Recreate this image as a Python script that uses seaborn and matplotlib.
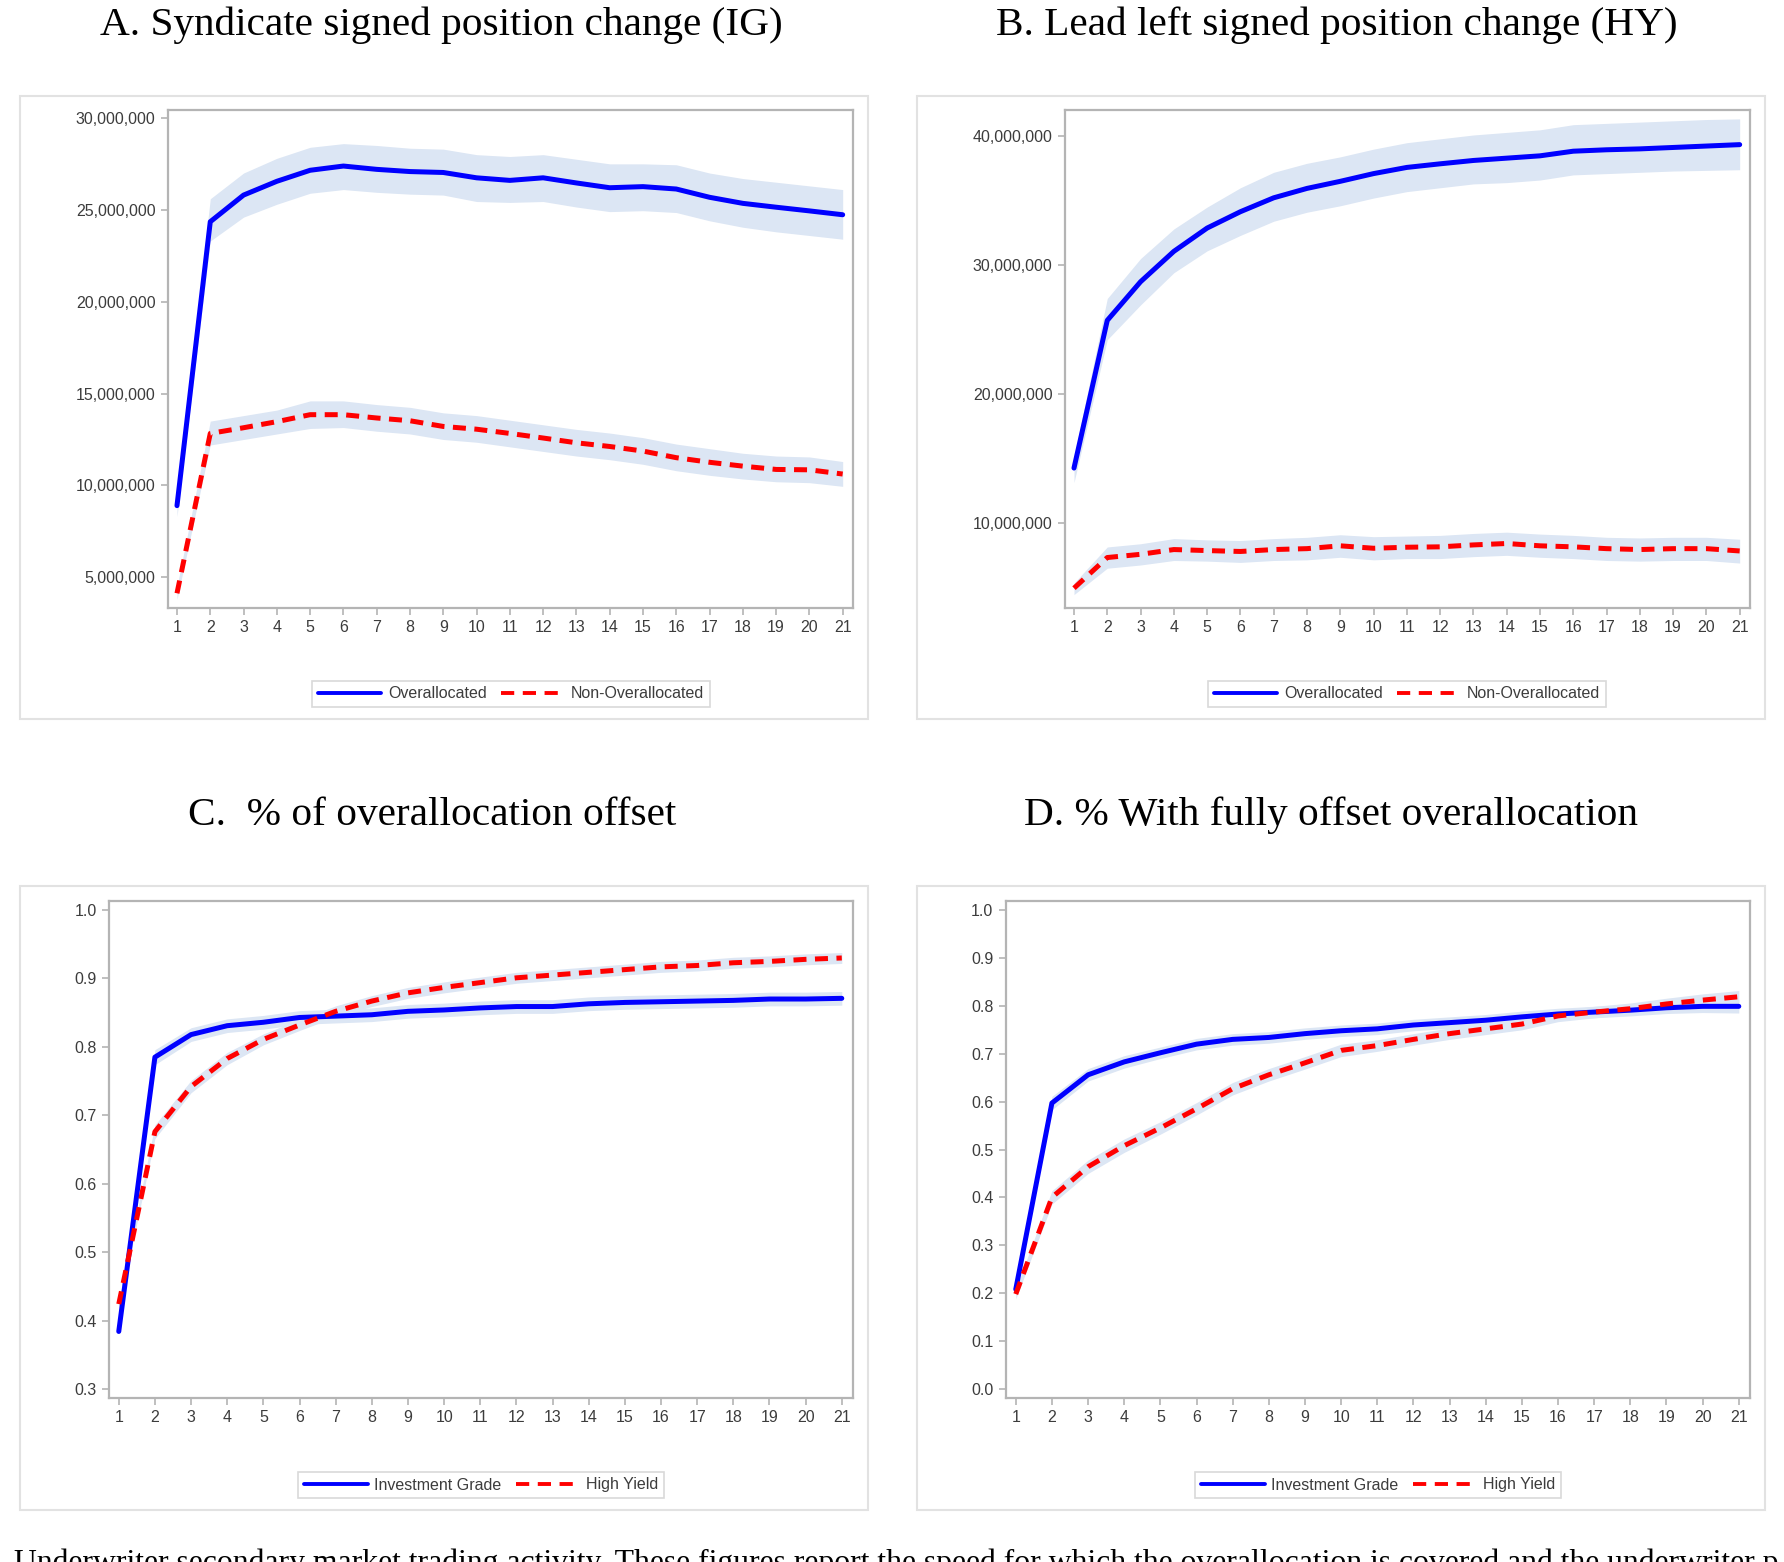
import numpy as np
import pandas as pd
import matplotlib
matplotlib.use("Agg")
import matplotlib.pyplot as plt
from matplotlib.patches import Rectangle
from matplotlib.ticker import FuncFormatter
import seaborn as sns

# Days after offering
days = list(range(1, 22))

# A. Syndicate signed position change (IG)
a_over = [8.9e6, 24.35e6, 25.8e6, 26.55e6, 27.15e6, 27.38e6, 27.2e6, 27.08e6, 27.03e6, 26.74e6, 26.6e6,
          26.74e6, 26.46e6, 26.2e6, 26.26e6, 26.13e6, 25.68e6, 25.35e6, 25.14e6, 24.94e6, 24.73e6]
a_over_lo = [8.3e6, 23.3e6, 24.6e6, 25.3e6, 25.9e6, 26.1e6, 25.95e6, 25.85e6, 25.8e6, 25.45e6, 25.4e6,
             25.45e6, 25.15e6, 24.9e6, 24.95e6, 24.85e6, 24.4e6, 24.05e6, 23.8e6, 23.6e6, 23.4e6]
a_over_hi = [9.6e6, 25.6e6, 27.0e6, 27.8e6, 28.4e6, 28.6e6, 28.5e6, 28.35e6, 28.3e6, 28.0e6, 27.9e6,
             28.0e6, 27.75e6, 27.5e6, 27.5e6, 27.45e6, 27.0e6, 26.7e6, 26.5e6, 26.3e6, 26.1e6]
a_non = [4.13e6, 12.83e6, 13.14e6, 13.47e6, 13.85e6, 13.85e6, 13.67e6, 13.52e6, 13.21e6, 13.06e6, 12.83e6,
         12.58e6, 12.32e6, 12.12e6, 11.87e6, 11.51e6, 11.26e6, 11.05e6, 10.87e6, 10.85e6, 10.62e6]
a_non_lo = [3.8e6, 12.2e6, 12.5e6, 12.8e6, 13.1e6, 13.15e6, 12.95e6, 12.8e6, 12.5e6, 12.35e6, 12.1e6,
            11.85e6, 11.6e6, 11.4e6, 11.15e6, 10.8e6, 10.55e6, 10.35e6, 10.2e6, 10.15e6, 9.95e6]
a_non_hi = [4.5e6, 13.5e6, 13.8e6, 14.1e6, 14.6e6, 14.6e6, 14.4e6, 14.25e6, 13.95e6, 13.8e6, 13.55e6,
            13.3e6, 13.05e6, 12.85e6, 12.6e6, 12.25e6, 12.0e6, 11.75e6, 11.6e6, 11.55e6, 11.3e6]

# B. Lead left signed position change (HY)
b_over = [14.23e6, 25.7e6, 28.7e6, 31.06e6, 32.87e6, 34.14e6, 35.22e6, 35.95e6, 36.5e6, 37.1e6, 37.58e6,
          37.86e6, 38.12e6, 38.3e6, 38.48e6, 38.84e6, 38.95e6, 39.02e6, 39.13e6, 39.24e6, 39.35e6]
b_over_lo = [13.1e6, 24.2e6, 26.9e6, 29.4e6, 31.1e6, 32.3e6, 33.4e6, 34.1e6, 34.6e6, 35.2e6, 35.7e6,
             36.0e6, 36.3e6, 36.4e6, 36.6e6, 37.0e6, 37.1e6, 37.2e6, 37.3e6, 37.35e6, 37.4e6]
b_over_hi = [15.1e6, 27.4e6, 30.5e6, 32.8e6, 34.5e6, 36.0e6, 37.2e6, 37.9e6, 38.4e6, 39.0e6, 39.5e6,
             39.8e6, 40.1e6, 40.3e6, 40.5e6, 40.9e6, 41.0e6, 41.1e6, 41.2e6, 41.3e6, 41.35e6]
b_non = [4.9e6, 7.28e6, 7.53e6, 7.9e6, 7.82e6, 7.75e6, 7.9e6, 7.97e6, 8.19e6, 8.0e6, 8.08e6,
         8.11e6, 8.26e6, 8.37e6, 8.19e6, 8.11e6, 7.97e6, 7.9e6, 7.97e6, 7.97e6, 7.79e6]
b_non_lo = [4.4e6, 6.45e6, 6.7e6, 7.05e6, 7.0e6, 6.9e6, 7.05e6, 7.1e6, 7.3e6, 7.1e6, 7.2e6,
            7.2e6, 7.35e6, 7.45e6, 7.3e6, 7.2e6, 7.05e6, 7.0e6, 7.05e6, 7.05e6, 6.85e6]
b_non_hi = [5.3e6, 8.1e6, 8.35e6, 8.75e6, 8.65e6, 8.6e6, 8.75e6, 8.85e6, 9.05e6, 8.9e6, 8.95e6,
            9.0e6, 9.15e6, 9.25e6, 9.1e6, 9.0e6, 8.85e6, 8.8e6, 8.85e6, 8.85e6, 8.7e6]

# C. % of overallocation offset
c_ig = [0.384, 0.785, 0.818, 0.831, 0.836, 0.843, 0.845, 0.847, 0.852, 0.854, 0.857,
        0.859, 0.859, 0.863, 0.865, 0.866, 0.867, 0.868, 0.870, 0.870, 0.871]
c_ig_ci = [0.004, 0.011, 0.010, 0.010, 0.010, 0.010, 0.010, 0.010, 0.010, 0.010, 0.010,
           0.010, 0.010, 0.010, 0.010, 0.010, 0.010, 0.010, 0.010, 0.010, 0.010]
c_hy = [0.424, 0.676, 0.742, 0.783, 0.811, 0.832, 0.852, 0.867, 0.879, 0.887, 0.894,
        0.901, 0.905, 0.909, 0.913, 0.917, 0.919, 0.923, 0.925, 0.928, 0.930]
c_hy_ci = [0.006, 0.010, 0.009, 0.009, 0.008, 0.008, 0.008, 0.008, 0.008, 0.008, 0.008,
           0.008, 0.008, 0.008, 0.008, 0.008, 0.008, 0.008, 0.008, 0.008, 0.008]

# D. % With fully offset overallocation
d_ig = [0.208, 0.597, 0.656, 0.683, 0.702, 0.720, 0.730, 0.734, 0.742, 0.748, 0.752,
        0.760, 0.765, 0.770, 0.777, 0.783, 0.787, 0.791, 0.796, 0.799, 0.799]
d_ig_ci = [0.010, 0.014, 0.013, 0.013, 0.012, 0.012, 0.012, 0.012, 0.012, 0.012, 0.012,
           0.012, 0.012, 0.012, 0.012, 0.012, 0.012, 0.012, 0.012, 0.013, 0.014]
d_hy = [0.198, 0.400, 0.464, 0.508, 0.545, 0.585, 0.627, 0.656, 0.681, 0.707, 0.717,
        0.730, 0.742, 0.752, 0.762, 0.779, 0.787, 0.794, 0.804, 0.812, 0.819]
d_hy_ci = [0.010, 0.014, 0.014, 0.014, 0.013, 0.013, 0.013, 0.013, 0.013, 0.013, 0.012,
           0.012, 0.012, 0.012, 0.012, 0.012, 0.012, 0.012, 0.012, 0.013, 0.013]

caption = ("Underwriter secondary market trading activity. These figures report the speed for which the "
           "overallocation is covered and the underwriter p")

BLUE = "#0000ff"
RED = "#ff0000"
BAND = "#dce6f4"
FRAME = "#b4b4b4"
TXT = "#3c3c3c"

W, H = 1784, 1562

sns.set_style("white")
plt.rcParams["font.family"] = ["Liberation Sans", "DejaVu Sans"]

fig = plt.figure(figsize=(W / 100, H / 100), dpi=100)


def px_rect(x0, y0, x1, y1):
    # pixel box (top-left origin) -> figure fraction
    return [x0 / W, 1 - y1 / H, (x1 - x0) / W, (y1 - y0) / H]


def draw_panel(title, tx, ty, frame, axbox, s1, s2, labels, ylim, yticks, fmt, legpos):
    fig.text(tx / W, 1 - ty / H, title, ha="center", va="center",
             family="Liberation Serif", fontsize=29.7, color="black")
    fx0, fy0, fx1, fy1 = frame
    fig.patches.append(Rectangle((fx0 / W, 1 - fy1 / H), (fx1 - fx0) / W, (fy1 - fy0) / H,
                                 transform=fig.transFigure, fill=False,
                                 edgecolor="#e2e2e2", linewidth=1.5))
    ax = fig.add_axes(px_rect(*axbox))
    handles = []
    series = [(s1, BLUE, "-"), (s2, RED, "--")]
    for (y, lo, hi), col, ls in series:
        ax.fill_between(days, lo, hi, color=BAND, linewidth=0, zorder=1)
    for (y, lo, hi), col, ls in series:
        df = pd.DataFrame({"day": days, "value": y})
        sns.lineplot(data=df, x="day", y="value", ax=ax, color=col, linewidth=3.6,
                     linestyle=ls, zorder=3)
        if ls == "--":
            ax.lines[-1].set_dashes((2.6, 1.7))
        h, = ax.plot([], [], color=col, linewidth=2.8, linestyle=ls)
        if ls == "--":
            h.set_dashes((3.4, 2.2))
        handles.append(h)
    ax.set_xlim(0.73, 21.31)
    ax.set_ylim(*ylim)
    ax.set_xticks(days)
    ax.set_yticks(yticks)
    ax.yaxis.set_major_formatter(FuncFormatter(fmt))
    ax.set_xlabel("")
    ax.set_ylabel("")
    for sp in ax.spines.values():
        sp.set_color(FRAME)
        sp.set_linewidth(1.6)
    ax.tick_params(axis="both", direction="out", length=5, width=1.2, color=FRAME,
                   labelsize=11.5, labelcolor=TXT, pad=4, bottom=True, left=True)
    leg = fig.legend(handles, labels, loc="center", bbox_to_anchor=(legpos[0] / W, 1 - legpos[1] / H),
                     ncol=2, frameon=True, fontsize=11.5, handlelength=4.0, handletextpad=0.4,
                     columnspacing=0.9, borderpad=0.35, fancybox=False)
    leg.get_frame().set_edgecolor("#d0d0d0")
    leg.get_frame().set_linewidth(1.2)
    for t in leg.get_texts():
        t.set_color(TXT)
    return ax


def fmt_int(v, pos):
    return f"{int(round(v)):,}"


def fmt_dec(v, pos):
    return f"{v:.1f}"


draw_panel("A. Syndicate signed position change (IG)", 441, 25,
           (20, 96, 868, 719), (168, 110, 853, 608),
           (a_over, a_over_lo, a_over_hi), (a_non, a_non_lo, a_non_hi),
           ["Overallocated", "Non-Overallocated"],
           (3.33e6, 30.43e6), [5e6, 10e6, 15e6, 20e6, 25e6, 30e6], fmt_int, (511, 694))

draw_panel("B. Lead left signed position change (HY)", 1337, 25,
           (917, 96, 1765, 719), (1065, 110, 1750, 608),
           (b_over, b_over_lo, b_over_hi), (b_non, b_non_lo, b_non_hi),
           ["Overallocated", "Non-Overallocated"],
           (3.36e6, 42.04e6), [10e6, 20e6, 30e6, 40e6], fmt_int, (1407, 694))

c_ig_s = (c_ig, np.array(c_ig) - np.array(c_ig_ci), np.array(c_ig) + np.array(c_ig_ci))
c_hy_s = (c_hy, np.array(c_hy) - np.array(c_hy_ci), np.array(c_hy) + np.array(c_hy_ci))
draw_panel("C.  % of overallocation offset", 432, 815,
           (20, 886, 868, 1510), (109, 901, 853, 1398),
           c_ig_s, c_hy_s, ["Investment Grade", "High Yield"],
           (0.2867, 1.0133), [0.3, 0.4, 0.5, 0.6, 0.7, 0.8, 0.9, 1.0], fmt_dec, (481, 1485))

d_ig_s = (d_ig, np.array(d_ig) - np.array(d_ig_ci), np.array(d_ig) + np.array(d_ig_ci))
d_hy_s = (d_hy, np.array(d_hy) - np.array(d_hy_ci), np.array(d_hy) + np.array(d_hy_ci))
draw_panel("D. % With fully offset overallocation", 1331, 815,
           (917, 886, 1765, 1510), (1006, 901, 1750, 1398),
           d_ig_s, d_hy_s, ["Investment Grade", "High Yield"],
           (-0.019, 1.019), [0.0, 0.1, 0.2, 0.3, 0.4, 0.5, 0.6, 0.7, 0.8, 0.9, 1.0], fmt_dec, (1378, 1485))

# caption line of the source page, cut by the bottom edge
fig.text(14 / W, 1 - 1549 / H, caption, ha="left", va="top",
         family="Liberation Serif", fontsize=22.8, color="black")

fig.savefig("out.png", dpi=100)
